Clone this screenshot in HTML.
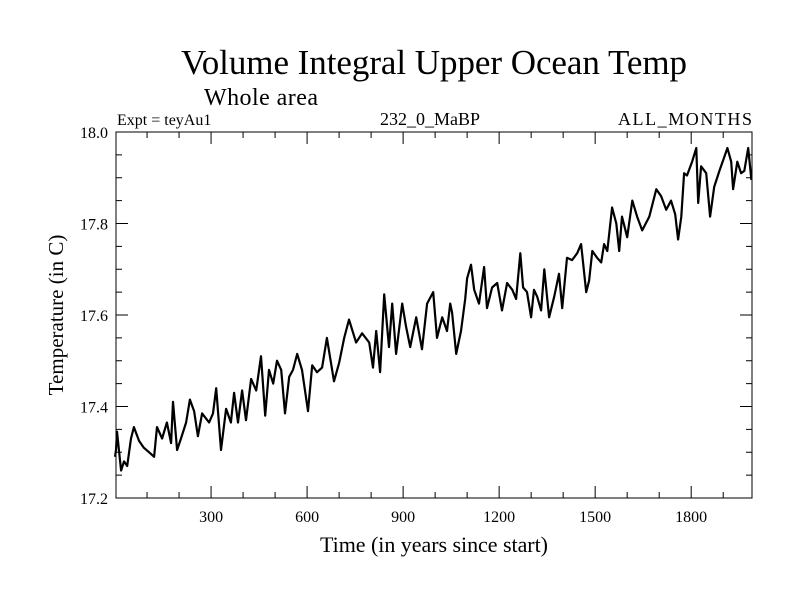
<!DOCTYPE html>
<html><head><meta charset="utf-8"><style>
body{margin:0;background:#fff;}
svg{display:block;font-family:"Liberation Serif",serif;}
</style></head><body>
<svg id="chart" width="800" height="600">
<text x="434" y="74" font-size="35" text-anchor="middle" textLength="506">Volume Integral Upper Ocean Temp</text>
<text x="204" y="105" font-size="24" textLength="114">Whole area</text>
<text x="117" y="125" font-size="16">Expt = teyAu1</text>
<text x="430" y="125" font-size="18" text-anchor="middle" textLength="100">232_0_MaBP</text>
<text x="752" y="125" font-size="18" text-anchor="end" textLength="134">ALL_MONTHS</text>
<text x="434" y="552" font-size="22" text-anchor="middle" textLength="228">Time (in years since start)</text>
<text transform="translate(63,315) rotate(-90)" font-size="21" text-anchor="middle">Temperature (in C)</text>
<g id="axes"></g>
<g id="series"></g>
<rect x="116" y="132" width="636" height="366" fill="none" stroke="#000" stroke-width="1"/>
</svg>
<script>
const years=[0,3,6,19,28,38,50,59,75,90,106,122,131,147,162,175,181,194,206,222,234,247,259,272,294,306,316,331,347,362,372,384,397,409,425,441,456,469,481,494,506,519,531,544,556,569,584,603,616,631,647,662,684,700,716,731,753,772,794,806,816,828,841,856,866,878,897,909,922,941,959,975,994,1006,1022,1037,1047,1053,1066,1081,1094,1100,1112,1122,1137,1153,1162,1178,1194,1209,1225,1241,1253,1266,1275,1287,1300,1309,1319,1331,1341,1356,1372,1387,1397,1412,1428,1444,1456,1472,1481,1491,1506,1519,1528,1538,1553,1566,1575,1584,1600,1616,1631,1647,1669,1691,1706,1722,1737,1750,1759,1769,1778,1787,1803,1816,1822,1831,1847,1859,1872,1888,1903,1913,1925,1931,1944,1956,1966,1978,1988];
const temps=[17.29,17.305,17.345,17.26,17.28,17.27,17.33,17.355,17.325,17.31,17.30,17.29,17.355,17.33,17.365,17.32,17.41,17.305,17.33,17.365,17.415,17.39,17.335,17.385,17.365,17.385,17.44,17.305,17.395,17.365,17.43,17.365,17.435,17.37,17.46,17.435,17.51,17.38,17.48,17.45,17.50,17.48,17.385,17.465,17.48,17.515,17.48,17.39,17.49,17.475,17.485,17.55,17.455,17.495,17.55,17.59,17.54,17.56,17.54,17.485,17.565,17.475,17.645,17.53,17.625,17.515,17.625,17.575,17.53,17.595,17.525,17.625,17.65,17.55,17.595,17.565,17.625,17.605,17.515,17.565,17.635,17.68,17.71,17.655,17.625,17.705,17.615,17.66,17.67,17.61,17.67,17.655,17.635,17.735,17.66,17.65,17.595,17.655,17.64,17.61,17.70,17.595,17.64,17.69,17.615,17.725,17.72,17.735,17.755,17.65,17.675,17.74,17.725,17.715,17.755,17.74,17.835,17.80,17.74,17.815,17.77,17.85,17.815,17.785,17.815,17.875,17.86,17.83,17.85,17.82,17.765,17.815,17.91,17.905,17.935,17.965,17.845,17.925,17.91,17.815,17.88,17.915,17.945,17.965,17.935,17.875,17.935,17.91,17.915,17.965,17.895];
const xMajor=[300,600,900,1200,1500,1800];
const yMajor=[17.2,17.4,17.6,17.8,18.0];
const yLabels=["17.2","17.4","17.6","17.8","18.0"];
const X0=116,X1=752,Y0=498,Y1=132,XMIN=3,XMAX=1990,YMIN=17.2,YMAX=18.0;
const sx=v=>X0+(v-XMIN)/(XMAX-XMIN)*(X1-X0);
const sy=v=>Y0-(v-YMIN)/(YMAX-YMIN)*(Y0-Y1);
const NS="http://www.w3.org/2000/svg";
const axes=document.getElementById('axes');
function ln(x1,y1,x2,y2,name){const l=document.createElementNS(NS,'line');l.setAttribute('x1',x1);l.setAttribute('y1',y1);l.setAttribute('x2',x2);l.setAttribute('y2',y2);l.setAttribute('stroke','#000');


axes.appendChild(l);}
function tx(x,y,s,anchor,name){const t=document.createElementNS(NS,'text');t.setAttribute('x',x);t.setAttribute('y',y);t.setAttribute('font-size','16');t.setAttribute('text-anchor',anchor);t.textContent=s;


axes.appendChild(t);}
for(let v=100;v<=1900;v+=100){const x=sx(v);const big=v%300===0;const L=big?12:6;
ln(x,Y0,x,Y0-L,'x-tick');ln(x,Y1,x,Y1+L,'x-tick-top');}
xMajor.forEach(v=>tx(sx(v),522,String(v),'middle','x-tick-label'));
for(let i=0;i<=16;i++){const v=YMIN+i*0.05;const y=sy(v);const big=i%4===0;const L=big?12:6;
ln(X0,y,X0+L,y,'y-tick');ln(X1,y,X1-L,y,'y-tick-right');}
yMajor.forEach((v,i)=>tx(108,sy(v)+6,yLabels[i],'end','y-tick-label'));
const p=document.createElementNS(NS,'polyline');
p.setAttribute('points',years.map((y,i)=>sx(y).toFixed(1)+','+sy(temps[i]).toFixed(1)).join(' '));
p.setAttribute('fill','none');p.setAttribute('stroke','#000');p.setAttribute('stroke-width','2.2');p.setAttribute('stroke-linejoin','round');


document.getElementById('series').appendChild(p);
</script>
</body></html>
